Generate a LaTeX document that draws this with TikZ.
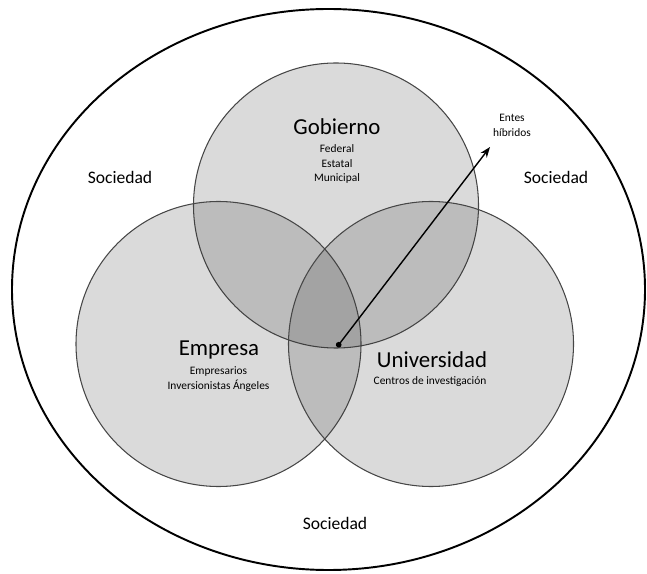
\documentclass[tikz,border=0pt]{standalone}
\usepackage{fontspec}
\setmainfont{Carlito}
\usetikzlibrary{arrows.meta,positioning}
\definecolor{myline}{RGB}{70,70,70}
\definecolor{myfill}{RGB}{51,51,51}
\tikzset{
  sector/.style={circle,draw=myline,line width=0.6pt,fill=myfill,fill opacity=0.18,
    minimum size=5.7cm,inner sep=0pt},
  society/.style={draw=black,line width=1.1pt},
  title/.style={font=\fontsize{13}{15}\selectfont,inner sep=1pt},
  sub/.style={font=\fontsize{6.5}{8.5}\selectfont,align=center,inner sep=1pt},
  soc/.style={font=\fontsize{10}{12}\selectfont,inner sep=1pt},
  link/.style={{Circle[length=3.2pt]}-{Stealth[length=6pt,width=4.5pt]},line width=0.8pt},
}
\begin{document}
\begin{tikzpicture}
  \useasboundingbox (0,0) rectangle (12.94,11.46);
  \draw[society] (6.57,5.67) ellipse (6.33 and 5.61);

  \node[sector] (gobierno) at (6.72,7.35) {};
  \node[sector] (empresa) at (4.37,4.58) {};
  \node[sector] (universidad) at (8.62,4.58) {};

  \node[title] (gob) at (6.74,8.92) {Gobierno};
  \node[sub] (gobsub) at (6.74,8.18) {Federal\\Estatal\\Municipal};
  \node[title] (emp) at (4.38,4.46) {Empresa};
  \node[sub] (empsub) at (4.37,3.88) {Empresarios\\Inversionistas Ángeles};
  \node[title] (uni) at (8.64,4.26) {Universidad};
  \node[sub] (unisub) at (8.60,3.82) {Centros de investigación};

  \node[soc] (soc1) at (2.40,7.92) {Sociedad};
  \node[soc] (soc2) at (11.12,7.92) {Sociedad};
  \node[soc] (soc3) at (6.70,1.00) {Sociedad};

  \node[sub] (entes) at (10.24,8.96) {Entes\\híbridos};
  \coordinate (hib) at (6.74,4.52);
  \coordinate (tip) at (9.80,8.52);
  \draw[link] (hib) -- (tip);
\end{tikzpicture}
\end{document}
